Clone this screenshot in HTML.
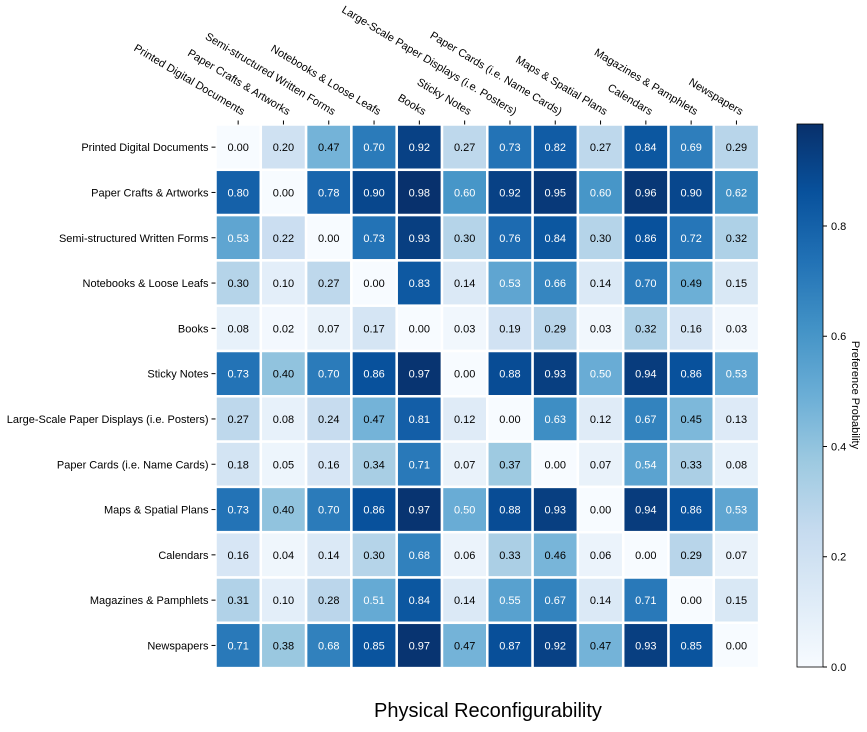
<!DOCTYPE html>
<html><head><meta charset="utf-8">
<style>
body{margin:0;background:#fff;}
svg{font-family:"Liberation Sans","DejaVu Sans",sans-serif;}
</style></head>
<body>
<svg id="chart" width="867" height="727" xmlns="http://www.w3.org/2000/svg"></svg>
<script>
const categories = ["Printed Digital Documents","Paper Crafts & Artworks","Semi-structured Written Forms","Notebooks & Loose Leafs","Books","Sticky Notes","Large-Scale Paper Displays (i.e. Posters)","Paper Cards (i.e. Name Cards)","Maps & Spatial Plans","Calendars","Magazines & Pamphlets","Newspapers"];
const row0 = [0.00,0.20,0.47,0.70,0.92,0.27,0.73,0.82,0.27,0.84,0.69,0.29];
const row1 = [0.80,0.00,0.78,0.90,0.98,0.60,0.92,0.95,0.60,0.96,0.90,0.62];
const row2 = [0.53,0.22,0.00,0.73,0.93,0.30,0.76,0.84,0.30,0.86,0.72,0.32];
const row3 = [0.30,0.10,0.27,0.00,0.83,0.14,0.53,0.66,0.14,0.70,0.49,0.15];
const row4 = [0.08,0.02,0.07,0.17,0.00,0.03,0.19,0.29,0.03,0.32,0.16,0.03];
const row5 = [0.73,0.40,0.70,0.86,0.97,0.00,0.88,0.93,0.50,0.94,0.86,0.53];
const row6 = [0.27,0.08,0.24,0.47,0.81,0.12,0.00,0.63,0.12,0.67,0.45,0.13];
const row7 = [0.18,0.05,0.16,0.34,0.71,0.07,0.37,0.00,0.07,0.54,0.33,0.08];
const row8 = [0.73,0.40,0.70,0.86,0.97,0.50,0.88,0.93,0.00,0.94,0.86,0.53];
const row9 = [0.16,0.04,0.14,0.30,0.68,0.06,0.33,0.46,0.06,0.00,0.29,0.07];
const row10 = [0.31,0.10,0.28,0.51,0.84,0.14,0.55,0.67,0.14,0.71,0.00,0.15];
const row11 = [0.71,0.38,0.68,0.85,0.97,0.47,0.87,0.92,0.47,0.93,0.85,0.00];
const values = [row0,row1,row2,row3,row4,row5,row6,row7,row8,row9,row10,row11];
const cbTicks = [0.0,0.2,0.4,0.6,0.8];
const vmax = 0.985;

const NS="http://www.w3.org/2000/svg";
const svg=document.getElementById('chart');
function mk(t,a,p){const e=document.createElementNS(NS,t);for(const k in a)e.setAttribute(k,a[k]);(p||svg).appendChild(e);return e;}
const stops=["#f7fbff","#deebf7","#c6dbef","#9ecae1","#6baed6","#4292c6","#2171b5","#08519c","#08306b"];
function hex(h){return [1,3,5].map(i=>parseInt(h.substr(i,2),16));}
function cmap(v){let t=Math.max(0,Math.min(1,v/vmax))*(stops.length-1);let i=Math.min(Math.floor(t),stops.length-2);let f=t-i;const a=hex(stops[i]),b=hex(stops[i+1]);return 'rgb('+a.map((x,k)=>Math.round(x+(b[k]-x)*f)).join(',')+')';}
const x0=215.5,y0=124.5,cw=45.3,ch=45.3,n=categories.length;
const xS=j=>x0+j*cw, yS=i=>y0+i*ch;

for(let i=0;i<n;i++)for(let j=0;j<n;j++){
  const v=values[i][j];
  const r=mk('rect',{x:xS(j),y:yS(i),width:cw,height:ch,fill:cmap(v),stroke:'#fff','stroke-width':2.5});
  
  
  const t=mk('text',{x:xS(j)+cw/2,y:yS(i)+ch/2+4,'text-anchor':'middle','font-size':11,fill:v>=0.5?'#fff':'#000'});
  t.textContent=v.toFixed(2);
  
  
}
for(let i=0;i<n;i++){
  const cy=yS(i)+ch/2;
  mk('line',{x1:x0-4,x2:x0,y1:cy,y2:cy,stroke:'#000'});
  const t=mk('text',{x:x0-7,y:cy+4,'text-anchor':'end','font-size':11});
  t.textContent=categories[i];
  
  
}
for(let j=0;j<n;j++){
  const cx=xS(j)+cw/2;
  mk('line',{x1:cx,x2:cx,y1:y0-4,y2:y0,stroke:'#000'});
  const t=mk('text',{x:0,y:0,'text-anchor':'end','font-size':11,transform:'translate('+(cx+4)+','+(y0-9)+') rotate(31)'});
  t.textContent=categories[j];
  
  
}
// colorbar
const cbx=797,cbw=26,cbTop=124,cbBot=667;
const defs=mk('defs',{});
const g=mk('linearGradient',{id:'cbg',x1:0,y1:1,x2:0,y2:0},defs);
stops.forEach((c,k)=>mk('stop',{offset:k/(stops.length-1),'stop-color':c},g));
const cb=mk('rect',{x:cbx,y:cbTop,width:cbw,height:cbBot-cbTop,fill:'url(#cbg)',stroke:'#000','stroke-width':0.8});


const cbY=v=>cbBot-(v/vmax)*(cbBot-cbTop);
cbTicks.forEach(v=>{
  const y=cbY(v);
  mk('line',{x1:cbx+cbw,x2:cbx+cbw+4,y1:y,y2:y,stroke:'#000'});
  const t=mk('text',{x:cbx+cbw+8,y:y+4,'font-size':11});
  t.textContent=v.toFixed(1);
  
  
});
const cl=mk('text',{x:0,y:0,'text-anchor':'middle','font-size':11,transform:'translate(852,395) rotate(90)'});
cl.textContent='Preference Probability';


const tt=mk('text',{x:488,y:717,'text-anchor':'middle','font-size':20});
tt.textContent='Physical Reconfigurability';


</script>
</body></html>
